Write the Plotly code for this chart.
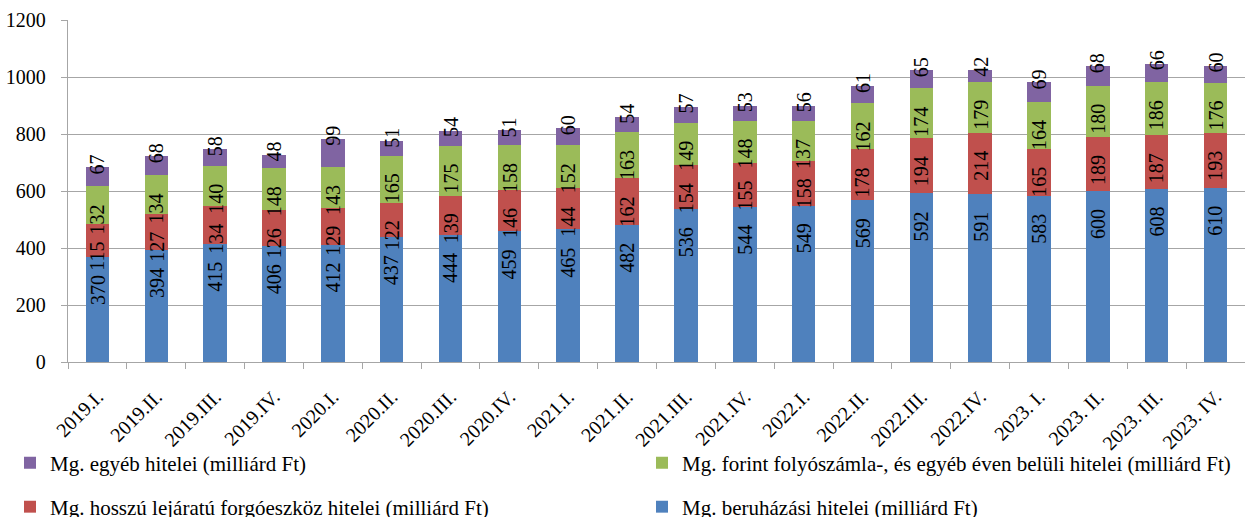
import plotly.graph_objects as go
import numpy as np

categories = ["2019.I.", "2019.II.", "2019.III.", "2019.IV.", "2020.I.", "2020.II.", "2020.III.", "2020.IV.",
              "2021.I.", "2021.II.", "2021.III.", "2021.IV.", "2022.I.", "2022.II.", "2022.III.", "2022.IV.",
              "2023. I.", "2023. II.", "2023. III.", "2023. IV."]

beruhazasi = [370, 394, 415, 406, 412, 437, 444, 459, 465, 482, 536, 544, 549, 569, 592, 591, 583, 600, 608, 610]
forgoeszkoz = [115, 127, 134, 126, 129, 122, 139, 146, 144, 162, 154, 155, 158, 178, 194, 214, 165, 189, 187, 193]
folyoszamla = [132, 134, 140, 148, 143, 165, 175, 158, 152, 163, 149, 148, 137, 162, 174, 179, 164, 180, 186, 176]
egyeb = [67, 68, 58, 48, 99, 51, 54, 51, 60, 54, 57, 53, 56, 61, 65, 42, 69, 68, 66, 60]

names = ["Mg. beruházási hitelei (milliárd Ft)",
         "Mg. hosszú lejáratú forgóeszköz hitelei (milliárd Ft)",
         "Mg. forint folyószámla-, és egyéb éven belüli hitelei (milliárd Ft)",
         "Mg. egyéb hitelei (milliárd Ft)"]
series = [beruhazasi, forgoeszkoz, folyoszamla, egyeb]
colors = ["#4f81bd", "#c0504d", "#9bbb59", "#8064a2"]
# legend slots: (column x in px, row centre y in px)
legend_ids = ["legend4", "legend3", "legend2", "legend"]
legend_pos = {"legend": (10, 463), "legend2": (642, 463), "legend3": (10, 507), "legend4": (642, 507)}

FONT = "Liberation Serif, Times New Roman, serif"
W, H = 1245, 517

fig = go.Figure()
for vals, name, col, lg in zip(series, names, colors, legend_ids):
    fig.add_trace(go.Bar(x=categories, y=vals, name=name, marker=dict(color=col, line=dict(width=0)),
                         legend=lg, showlegend=True))

# data labels
cum = np.zeros(len(categories))
annotations = []
for si, vals in enumerate(series):
    cum = cum + np.array(vals)
    for ci, cat in enumerate(categories):
        if si < 3:
            annotations.append(dict(x=cat, y=float(cum[ci]), text=str(vals[ci]), textangle=-90,
                                    showarrow=False, xanchor="center", yanchor="top", yshift=-16,
                                    font=dict(family=FONT, size=20, color="black")))
        else:
            annotations.append(dict(x=cat, y=float(cum[ci]), text=str(vals[ci]), textangle=-90,
                                    showarrow=False, xanchor="center", yanchor="middle", yshift=3,
                                    font=dict(family=FONT, size=20, color="black")))

legend_layout = {}
for lid, (px, py) in legend_pos.items():
    legend_layout[lid] = dict(orientation="h", xref="container", yref="container",
                              x=px / W, y=1 - py / H, xanchor="left", yanchor="middle",
                              itemwidth=30, font=dict(family=FONT, size=21, color="black"),
                              bgcolor="rgba(0,0,0,0)")

fig.update_layout(
    barmode="stack",
    bargap=0.6,
    width=W, height=H,
    showlegend=True,
    margin=dict(l=68, r=0, t=20, b=155, autoexpand=False),
    paper_bgcolor="white", plot_bgcolor="white",
    font=dict(family=FONT, size=20, color="black"),
    annotations=annotations,
    **legend_layout,
)

fig.update_yaxes(range=[0, 1200], dtick=200, showgrid=True, gridcolor="#a6a6a6", gridwidth=1.3,
                 showline=True, linecolor="#a6a6a6", linewidth=1.3, ticks="outside", ticklen=6,
                 tickcolor="#a6a6a6", tickfont=dict(family=FONT, size=20), zeroline=False,
                 automargin=False, ticklabelstandoff=11)
fig.update_xaxes(showline=True, linecolor="#a6a6a6", linewidth=1.3, ticks="outside", ticklen=6,
                 tickcolor="#a6a6a6", tickson="boundaries", tickangle=-45,
                 tickfont=dict(family=FONT, size=20), automargin=False, ticklabelstandoff=14)

fig.write_html("out.html", config={"displayModeBar": False},
               post_script="document.body.style.margin='0';document.body.style.overflow='hidden';")
